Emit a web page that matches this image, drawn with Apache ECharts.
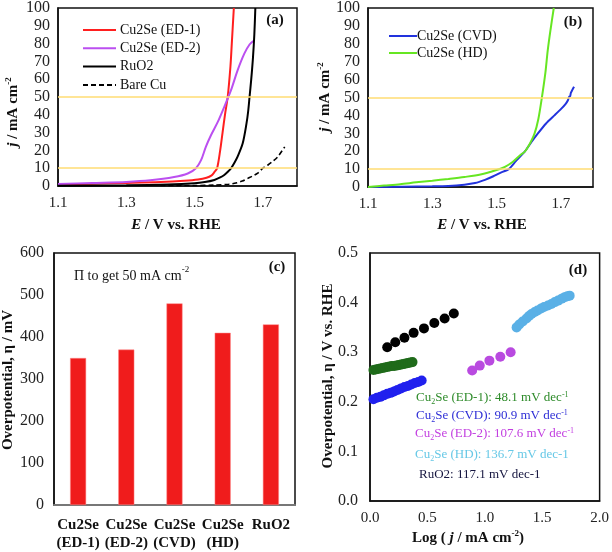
<!DOCTYPE html>
<html><head><meta charset="utf-8">
<script src="https://cdn.jsdelivr.net/npm/echarts@6/dist/echarts.min.js"></script>
<style>html,body{margin:0;padding:0;background:#fff}#c{width:612px;height:552px}</style>
</head><body><div id="c"></div>
<script>
// ---- Panel (a): LSV curves ----
const aRedE = [1.10,1.20,1.30,1.40,1.47,1.51,1.535,1.55,1.558,1.566,1.575,1.582,1.589,1.597,1.605,1.609,1.615];
const aRedJ = [1.0,1.3,1.7,2.2,2.9,3.6,4.6,6.0,7.8,10,20,30,40,50,67,80,100];
const aPurE = [1.10,1.20,1.30,1.37,1.44,1.48,1.504,1.519,1.533,1.548,1.568,1.587,1.607,1.626,1.646,1.661,1.672];
const aPurJ = [1.1,1.7,2.3,3.2,5.0,7.0,10,14.5,22,28.5,36,44.5,54,65,74.5,79.5,81.5];
const aRuE = [1.10,1.30,1.42,1.50,1.53,1.558,1.575,1.587,1.600,1.607,1.618,1.626,1.641,1.652,1.657,1.661,1.666,1.671,1.675,1.678];
const aRuJ = [0.2,0.4,0.8,1.5,2.2,3.4,4.8,6.2,8.5,10,13.5,16.5,24,35,42,50,60,72,85,100];
const aCuE = [1.40,1.50,1.558,1.60,1.617,1.64,1.656,1.67,1.685,1.70,1.715,1.73,1.744,1.764];
const aCuJ = [0.3,0.3,0.5,1.0,1.5,2.8,4.3,5.6,7.2,10,11.8,14.0,16.5,22];
// ---- Panel (b) ----
const bCvdE = [1.10,1.30,1.35,1.40,1.433,1.464,1.49,1.51,1.538,1.56,1.587,1.608,1.628,1.654,1.68,1.70,1.715,1.722,1.726,1.729,1.731,1.735,1.741];
const bCvdJ = [0,0.4,0.6,1.3,2.2,4.0,6.0,7.8,10,14.5,19.6,25,29.8,35.5,40,43.5,46.5,48.5,50.5,50.8,52.5,54,56];
const bHdE = [1.10,1.15,1.20,1.25,1.30,1.35,1.40,1.45,1.50,1.526,1.55,1.575,1.587,1.60,1.618,1.63,1.641,1.652,1.659,1.668,1.678];
const bHdJ = [0,0.8,1.6,2.6,3.5,4.5,5.6,7.0,9.5,11.3,14,18,19.6,23,29.8,38,50,64,76,88,100];
const refLines = [10, 50];
// ---- Panel (c) ----
const cCats = ['Cu2Se\n(ED-1)','Cu2Se\n(ED-2)','Cu2Se\n(CVD)','Cu2Se\n(HD)','RuO2'];
const cVals = [350, 370, 480, 410, 430];
// ---- Panel (d): Tafel ----
const dRuX = [0.15,0.22,0.30,0.38,0.47,0.56,0.65,0.73];
const dRuY = [0.310,0.320,0.329,0.339,0.348,0.359,0.368,0.378];
const dEd1X = [0.03,0.05,0.07,0.09,0.11,0.13,0.15,0.17,0.19,0.21,0.23,0.25,0.27,0.29,0.31,0.33,0.35,0.37];
const dEd1Y = [0.264,0.265,0.266,0.267,0.268,0.269,0.270,0.271,0.272,0.272,0.273,0.274,0.275,0.276,0.277,0.278,0.279,0.280];
const dCvdX = [0.03,0.06,0.09,0.12,0.15,0.18,0.21,0.24,0.27,0.30,0.33,0.36,0.39,0.42,0.45];
const dCvdY = [0.205,0.208,0.210,0.213,0.216,0.218,0.221,0.224,0.227,0.230,0.232,0.235,0.238,0.240,0.243];
const dEd2X = [0.89,0.956,1.04,1.135,1.225];
const dEd2Y = [0.263,0.273,0.283,0.291,0.300];
const dHdX = [1.277,1.30,1.33,1.363,1.385,1.407,1.435,1.459,1.49,1.516,1.55,1.58,1.61,1.638,1.67,1.696,1.72,1.739];
const dHdY = [0.350,0.356,0.362,0.368,0.373,0.377,0.381,0.384,0.388,0.391,0.394,0.397,0.401,0.404,0.408,0.411,0.413,0.414];

const zip = (a,b) => a.map((v,i)=>[v,b[i]]);
const F = '"Liberation Serif","DejaVu Serif",serif';
const labX = {fontFamily:F, fontSize:15, color:'#222'};
const labY = {fontFamily:F, fontSize:16, color:'#222'};
const axl = {show:true, lineStyle:{color:'#111', width:1.5}};
const oddFmt = v => (Math.round(v*10)%2===1) ? v.toFixed(1) : '';
function valX(gi, min, max, interval, fmt, margin){
  return {gridIndex:gi, type:'value', min, max, interval, axisLine:axl, axisTick:{show:false},
    splitLine:{show:false}, axisLabel:Object.assign({formatter:fmt, margin}, labX)};
}
function valY(gi, min, max, interval, margin, fmt){
  const l = Object.assign({margin}, labY); if (fmt) l.formatter = fmt;
  return {gridIndex:gi, type:'value', min, max, interval, axisLine:axl, axisTick:{show:false}, splitLine:{show:false}, axisLabel:l};
}
const hl = {silent:true, symbol:'none', label:{show:false}, lineStyle:{color:'#ffdc73', width:1.5, type:'solid'},
  data: refLines.map(v=>({yAxis:v}))};

const chart = echarts.init(document.getElementById('c'));
const sup = {fontSize:9, verticalAlign:'bottom', padding:[0,0,9,0], fontFamily:F, fontWeight:'bold', fill:'#111'};
const B = {fontFamily:F, fontSize:15, fontWeight:'bold', fill:'#111'};
const I = {fontFamily:F, fontSize:15, fontWeight:'bold', fontStyle:'italic', fill:'#111'};
function t(x,y,text,rich,rot,extra){
  return {type:'text', x, y, rotation:rot||0, style:Object.assign({text, rich, align:'center', verticalAlign:'middle'}, extra||{})};
}
const ann = (x,y,main,color,sup1) => ({type:'text', x, y, style:{
  text: '{m|Cu}{s|2}{m|Se '+main+'}' + (sup1 ? '{p|-1}' : '{m|-1}'),
  rich:{m:{fontFamily:F,fontSize:13,fill:color}, s:{fontFamily:F,fontSize:8,fill:color,verticalAlign:'top',padding:[8,0,0,0]},
        p:{fontFamily:F,fontSize:8,fill:color,verticalAlign:'bottom',padding:[0,0,7,0]}},
  align:'left', verticalAlign:'middle'}});
const legTxt = {fontFamily:F, fontSize:14, color:'#111'};

chart.setOption({
  animation:false,
  backgroundColor:'#fff',
  grid:[
    {left:58, top:8, width:239, height:178, show:true, borderColor:'#111', borderWidth:1.5},
    {left:368, top:7, width:225, height:180, show:true, borderColor:'#111', borderWidth:1.5},
    {left:54, top:253, width:241, height:254, show:true, borderColor:'#111', borderWidth:1.5},
    {left:370, top:253, width:232, height:248, show:true, borderColor:'#111', borderWidth:1.5}
  ],
  xAxis:[
    valX(0, 1.1, 1.8, 0.1, oddFmt, 10),
    valX(1, 1.1, 1.8, 0.1, oddFmt, 10),
    {gridIndex:2, type:'category', data:cCats, axisLine:{show:true, lineStyle:{color:'#777', width:2}}, axisTick:{show:false},
      axisLabel:{fontFamily:F, fontSize:15, fontWeight:'bold', color:'#111', margin:11, lineHeight:18, interval:0}},
    valX(3, 0, 2, 0.5, v=>v.toFixed(1), 10)
  ],
  yAxis:[
    valY(0, 0, 100, 10, 8),
    valY(1, 0, 100, 10, 8),
    valY(2, 0, 600, 100, 10),
    valY(3, 0, 0.5, 0.1, 12, v=>v.toFixed(1))
  ],
  legend:[
    {orient:'vertical', left:77, top:18, itemWidth:33, itemHeight:12, itemGap:4.3,
      itemStyle:{opacity:0}, data:['Cu2Se (ED-1)','Cu2Se (ED-2)','RuO2','Bare Cu'], textStyle:Object.assign({padding:[0,0,0,-1]}, legTxt)},
    {orient:'vertical', left:383, top:24, itemWidth:28, itemHeight:12, itemGap:3,
      itemStyle:{opacity:0}, data:['Cu2Se (CVD)','Cu2Se (HD)'], textStyle:Object.assign({padding:[0,0,0,-5]}, legTxt)}
  ],
  series:[
    {name:'Cu2Se (ED-1)', type:'line', xAxisIndex:0, yAxisIndex:0, data:zip(aRedE,aRedJ), symbol:'none', smooth:0.3, lineStyle:{color:'#ff1f1f', width:2}, itemStyle:{color:'#ff1f1f'}, markLine:hl},
    {name:'Cu2Se (ED-2)', type:'line', xAxisIndex:0, yAxisIndex:0, data:zip(aPurE,aPurJ), symbol:'none', smooth:0.3, lineStyle:{color:'#bb4ff0', width:2}, itemStyle:{color:'#bb4ff0'}},
    {name:'RuO2', type:'line', xAxisIndex:0, yAxisIndex:0, data:zip(aRuE,aRuJ), symbol:'none', smooth:0.3, lineStyle:{color:'#000', width:2}, itemStyle:{color:'#000'}},
    {name:'Bare Cu', type:'line', xAxisIndex:0, yAxisIndex:0, data:zip(aCuE,aCuJ), symbol:'none', smooth:0.3, lineStyle:{color:'#000', width:1.6, type:[5,3]}, itemStyle:{color:'#000'}},
    {name:'Cu2Se (CVD)', type:'line', xAxisIndex:1, yAxisIndex:1, data:zip(bCvdE,bCvdJ), symbol:'none', smooth:0.2, lineStyle:{color:'#2233dd', width:2}, itemStyle:{color:'#2233dd'}, markLine:hl},
    {name:'Cu2Se (HD)', type:'line', xAxisIndex:1, yAxisIndex:1, data:zip(bHdE,bHdJ), symbol:'none', smooth:0.3, lineStyle:{color:'#66e622', width:2}, itemStyle:{color:'#66e622'}},
    {name:'overpotential', type:'bar', xAxisIndex:2, yAxisIndex:2, data:cVals, barWidth:16, itemStyle:{color:'#f01c1c', borderColor:'#f88', borderWidth:0.5}},
    {type:'scatter', xAxisIndex:3, yAxisIndex:3, data:zip(dRuX,dRuY), symbolSize:10, itemStyle:{color:'#000', opacity:1}},
    {type:'scatter', xAxisIndex:3, yAxisIndex:3, data:zip(dEd1X,dEd1Y), symbolSize:10, itemStyle:{color:'#1f6b1a', opacity:1}},
    {type:'scatter', xAxisIndex:3, yAxisIndex:3, data:zip(dCvdX,dCvdY), symbolSize:10, itemStyle:{color:'#2020ee', opacity:1}},
    {type:'scatter', xAxisIndex:3, yAxisIndex:3, data:zip(dEd2X,dEd2Y), symbolSize:10, itemStyle:{color:'#b94ae0', opacity:1}},
    {type:'scatter', xAxisIndex:3, yAxisIndex:3, data:zip(dHdX,dHdY), symbolSize:10, itemStyle:{color:'#5ab0e6', opacity:1}}
  ],
  graphic:[
    // axis titles
    t(13, 112, '{i|j}{b| / mA cm}{s|-2}', {i:I, b:B, s:sup}, Math.PI/2),
    t(325, 97, '{i|j}{b| / mA cm}{s|-2}', {i:I, b:B, s:sup}, Math.PI/2),
    t(176, 225, '{i|E}{b| / V vs. RHE}', {i:I, b:B}),
    t(482, 225, '{i|E}{b| / V vs. RHE}', {i:I, b:B}),
    t(8, 380, '{b|Overpotential, η / mV}', {b:B}, Math.PI/2),
    t(328, 376, '{b|Overpotential, η / V vs. RHE}', {b:B}, Math.PI/2),
    t(468, 538, '{b|Log ( }{i|j}{b| / mA cm}{s|-2}{b|)}', {i:I, b:B, s:sup}),
    // panel letters
    t(275, 20, '{b|(a)}', {b:B}),
    t(573, 22, '{b|(b)}', {b:B}),
    t(277, 267, '{b|(c)}', {b:B}),
    t(578, 270, '{b|(d)}', {b:B}),
    // annotation (c)
    {type:'text', x:74, y:276, style:{text:'{m|Π to get 50 mA cm}{s|-2}', rich:{m:{fontFamily:F,fontSize:14,fill:'#111'}, s:{fontFamily:F,fontSize:9,fill:'#111',verticalAlign:'bottom',padding:[0,0,12,0]}}, align:'left', verticalAlign:'middle'}},
    // Tafel slopes (d)
    ann(416, 398, '(ED-1): 48.1 mV dec', '#2e8b2a', true),
    ann(416, 416, '(CVD): 90.9 mV dec', '#2f2fd6', true),
    ann(415, 434, '(ED-2): 107.6 mV dec', '#c23ee0', true),
    ann(415, 455, '(HD): 136.7 mV dec', '#66c8e6', false),
    {type:'text', x:419, y:475, style:{text:'RuO2: 117.1 mV dec-1', fontFamily:F, fontSize:13, fill:'#15153f', align:'left', verticalAlign:'middle'}}
  ]
});
</script></body></html>
